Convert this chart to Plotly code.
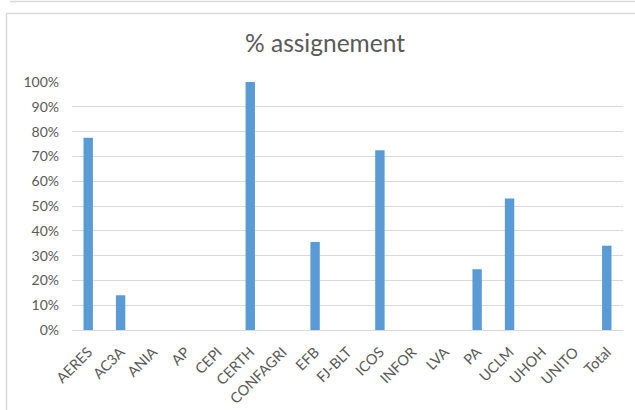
import plotly.graph_objects as go

categories = ["AERES", "AC3A", "ANIA", "AP", "CEPI", "CERTH", "CONFAGRI", "EFB",
              "FJ-BLT", "ICOS", "INFOR", "LVA", "PA", "UCLM", "UHOH", "UNITO", "Total"]
values = [0.775, 0.14, 0, 0, 0, 1.0, 0, 0.355, 0, 0.725, 0, 0, 0.245, 0.53, 0, 0, 0.34]
y_ticks = [0, 0.1, 0.2, 0.3, 0.4, 0.5, 0.6, 0.7, 0.8, 0.9, 1.0]
y_tick_labels = ["0%", "10%", "20%", "30%", "40%", "50%", "60%", "70%", "80%", "90%", "100%"]
title_text = "% assignement"

FONT = "Lato, Open Sans, sans-serif"
GRAY = "#595959"

fig = go.Figure(go.Bar(x=categories, y=values, marker_color="#5B9BD5",
                       marker_line_width=0))

W, H = 635, 410
ml, mr, mt, mb = 72, 12, 82, 80
pw, ph = W - ml - mr, H - mt - mb

def px(x):
    return (x - ml) / pw

def py(y):
    return (H - mb - y) / ph

shapes = [
    # chart frame
    dict(type="rect", xref="paper", yref="paper", x0=px(6.5), x1=px(640), y0=py(13.5), y1=py(420),
         line=dict(color="#D9D9D9", width=1.5), fillcolor="rgba(0,0,0,0)", layer="below"),
    # line above from previous element
    dict(type="line", xref="paper", yref="paper", x0=px(10), x1=px(640), y0=py(1.5), y1=py(1.5),
         line=dict(color="#D9D9D9", width=1.5)),
]

fig.update_layout(
    width=W, height=H,
    margin=dict(l=ml, r=mr, t=mt, b=mb, autoexpand=False),
    paper_bgcolor="white", plot_bgcolor="white",
    bargap=0.71,
    showlegend=False,
    shapes=shapes,
    title=dict(text=title_text, x=325 / W, xref="container", xanchor="center",
               y=1 - 43 / H, yanchor="middle",
               font=dict(family=FONT, size=24.5, color=GRAY)),
    font=dict(family=FONT, color=GRAY),
    xaxis=dict(tickangle=-45, tickfont=dict(size=14.5, color=GRAY), showgrid=False,
               showline=True, linecolor="#D9D9D9", linewidth=1, ticks="",
               ticklabelstandoff=7, automargin=False),
    yaxis=dict(range=[0, 1.0], tickvals=y_ticks, ticktext=y_tick_labels,
               tickfont=dict(size=14, color=GRAY), showgrid=True, gridcolor="#D9D9D9",
               gridwidth=1, zeroline=False, showline=False, ticks="",
               ticklabelstandoff=12, automargin=False),
)

fig.write_html("out.html", config={"displayModeBar": False},
               post_script="document.body.style.margin='0';document.body.style.overflow='hidden';")
